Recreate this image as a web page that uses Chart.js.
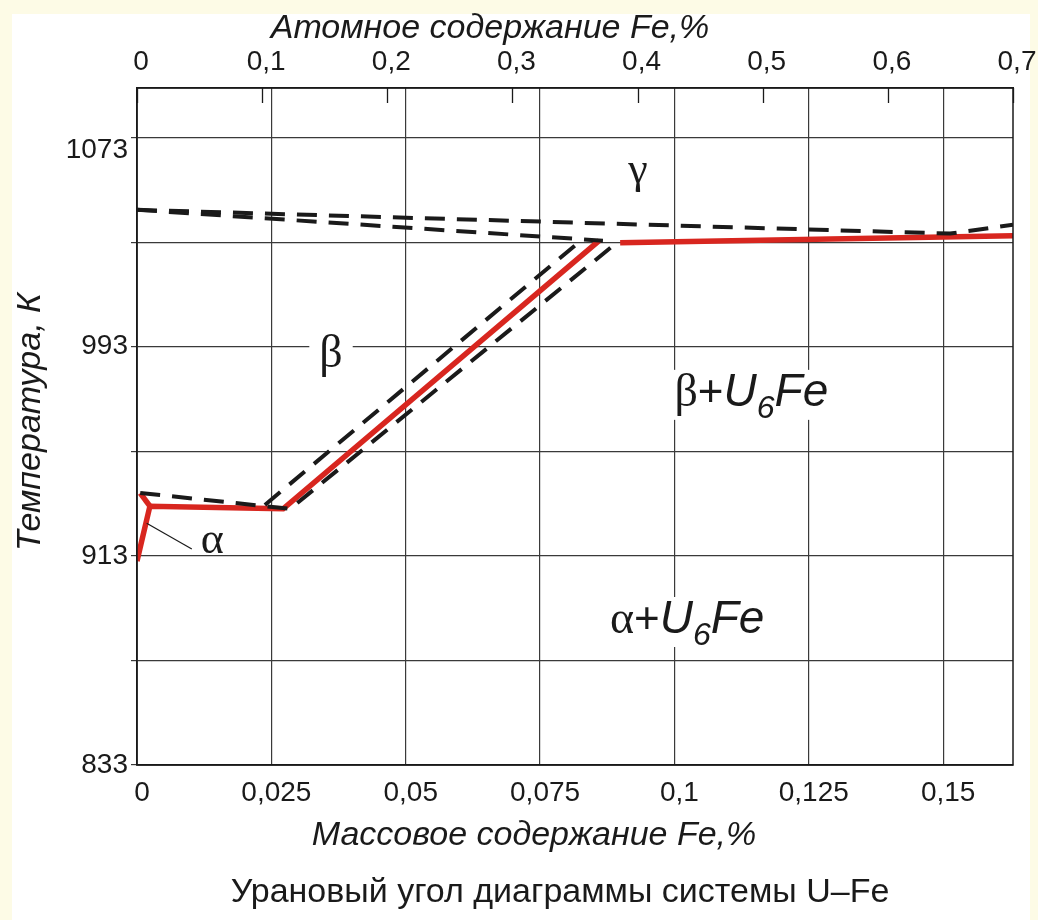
<!DOCTYPE html>
<html>
<head>
<meta charset="utf-8">
<script src="https://cdn.jsdelivr.net/npm/chart.js@4"></script>
<style>
  body { margin: 0; background: #fdfbe6; }
  canvas { display: block; }
</style>
</head>
<body>
<canvas id="grafik" width="1038" height="920"></canvas>
<script>
// bottom axis: mass % Fe, top axis: atomic % Fe, left axis: temperature K
const massTicks = [0, 0.025, 0.05, 0.075, 0.1, 0.125, 0.15];
const atomTicks = [0, 0.1, 0.2, 0.3, 0.4, 0.5, 0.6, 0.7];
const tempTicks = [833, 873, 913, 953, 993, 1033, 1073];
const tempLabels = [833, 913, 993, 1073];

// red solid boundaries
const redMainX = [0, 0.0024, 0.0272, 0.0860];
const redMainY = [911, 932, 931, 1033.6];
const redBranchX = [0.0024, 0.0006];
const redBranchY = [932, 937];
const redTopX = [0.0899, 0.163];
const redTopY = [1032.8, 1035.5];

// black dashed boundaries
const dashAX = [0, 0.1513, 0.163];
const dashAY = [1045.4, 1036.3, 1039.7];
const dashBX = [0, 0.0867];
const dashBY = [1045.4, 1033.6];
const dashCX = [0.0238, 0.0828];
const dashCY = [932.5, 1034.0];
const dashDX = [0.0006, 0.0285, 0.0895];
const dashDY = [937.1, 931.0, 1033.2];

// thin pointer to the alpha label
const pointerX = [0.0018, 0.0102];
const pointerY = [925.5, 915.6];

const pts = (xs, ys) => xs.map((x, i) => ({ x: x, y: ys[i] }));
const comma = v => String(v).replace('.', ',');

const red = '#d8261f';
const ink = '#1a1a1a';
const gridCol = '#3a3a3a';

function line(xs, ys, color, width, dash) {
  return {
    data: pts(xs, ys),
    showLine: true,
    borderColor: color,
    borderWidth: width,
    borderDash: dash || [],
    pointRadius: 0,
    fill: false,
    xAxisID: 'x',
    yAxisID: 'y'
  };
}

const backdrop = {
  id: 'backdrop',
  beforeDraw(chart) {
    const c = chart.ctx;
    c.save();
    c.fillStyle = '#fdfbe6';
    c.fillRect(0, 0, chart.width, chart.height);
    c.fillStyle = '#ffffff';
    c.fillRect(12, 14, 1018, 906);
    c.restore();
  }
};

// region labels, titles, inner ticks of the top axis, frame
const extras = {
  id: 'extras',
  afterDraw(chart) {
    const c = chart.ctx;
    const a = chart.chartArea;
    const sx = chart.scales.x, sy = chart.scales.y, sx2 = chart.scales.x2;
    c.save();

    c.strokeStyle = ink;
    c.lineWidth = 1.5;
    c.strokeRect(a.left, a.top, a.right - a.left, a.bottom - a.top);

    c.lineWidth = 1.3;
    atomTicks.forEach(v => {
      const px = Math.round(sx2.getPixelForValue(v)) + 0.5;
      c.beginPath();
      c.moveTo(px, a.top);
      c.lineTo(px, a.top + 15);
      c.stroke();
    });

    c.fillStyle = ink;

    // greek labels
    const greek = (txt, x, y, size, bg) => {
      c.font = size + 'px "Liberation Serif", "DejaVu Serif", serif';
      c.textAlign = 'center';
      c.textBaseline = 'middle';
      const px = sx.getPixelForValue(x), py = sy.getPixelForValue(y);
      if (bg) {
        const w = c.measureText(txt).width;
        c.fillStyle = '#fff';
        c.fillRect(px - w / 2 - 10, py - 20, w + 20, 40);
        c.fillStyle = ink;
      }
      c.fillText(txt, px, py);
    };
    greek('γ', 0.0932, 1060.0, 44, false);
    greek('β', 0.0361, 990, 46, true);
    greek('α', 0.0140, 918.7, 44, false);

    // two-phase labels with subscript
    const phase = (first, x, y) => {
      let px = sx.getPixelForValue(x);
      const py = sy.getPixelForValue(y);
      c.textAlign = 'left';
      c.textBaseline = 'alphabetic';
      const parts = [
        [first, '46px "Liberation Serif", serif', 0],
        ['+', '44px "Liberation Sans", Arial, sans-serif', 0],
        ['U', 'italic 46px "Liberation Sans", Arial, sans-serif', 0],
        ['6', 'italic 32px "Liberation Sans", Arial, sans-serif', 12],
        ['Fe', 'italic 46px "Liberation Sans", Arial, sans-serif', 0]
      ];
      let total = 0;
      parts.forEach(p => { c.font = p[1]; total += c.measureText(p[0]).width; });
      c.fillStyle = '#fff';
      c.fillRect(px - 2, py - 36, total + 4, 50);
      c.fillStyle = ink;
      parts.forEach(p => {
        c.font = p[1];
        c.fillText(p[0], px, py + p[2]);
        px += c.measureText(p[0]).width;
      });
    };
    phase('β', 0.1000, 970.4);
    phase('α', 0.0880, 883.5);

    // axis titles and caption
    c.textAlign = 'center';
    c.textBaseline = 'middle';
    c.fillStyle = ink;
    c.font = 'italic 34px "Liberation Sans", Arial, sans-serif';
    c.fillText('Атомное содержание Fe,%', 490, 29);
    c.fillText('Массовое содержание Fe,%', 534, 836);
    c.save();
    c.translate(31, 422);
    c.rotate(-Math.PI / 2);
    c.fillText('Температура, К', 0, 0);
    c.restore();
    c.font = '34px "Liberation Sans", Arial, sans-serif';
    c.fillText('Урановый угол диаграммы системы U–Fe', 560, 893);

    c.restore();
  }
};

const xFont = { family: '"Liberation Sans", Arial, sans-serif', size: 28 };
const yFont = { family: '"Liberation Sans", Arial, sans-serif', size: 28, lineHeight: 0.9 };
const noSidePad = s => { s.paddingLeft = 0; s.paddingRight = 0; };

new Chart(document.getElementById('grafik'), {
  type: 'scatter',
  data: {
    datasets: [
      line(pointerX, pointerY, ink, 1.2),
      line(dashAX, dashAY, ink, 4, [20, 12]),
      line(dashBX, dashBY, ink, 4, [20, 12]),
      line(dashCX, dashCY, ink, 4, [20, 12]),
      line(dashDX, dashDY, ink, 4, [20, 12]),
      line(redMainX, redMainY, red, 5.5),
      line(redBranchX, redBranchY, red, 5.5),
      line(redTopX, redTopY, red, 5.5)
    ]
  },
  options: {
    responsive: false,
    animation: false,
    layout: { padding: { left: 0, right: 25, top: 0, bottom: 0 } },
    plugins: { legend: { display: false }, tooltip: { enabled: false } },
    elements: { line: { tension: 0, borderCapStyle: 'butt' } },
    scales: {
      x: {
        type: 'linear',
        position: 'bottom',
        min: 0,
        max: 0.163,
        afterBuildTicks: s => { s.ticks = massTicks.map(v => ({ value: v })); },
        afterFit: s => { s.height = 155; noSidePad(s); },
        ticks: { callback: v => comma(v), font: xFont, color: ink, padding: 11, labelOffset: 5, maxRotation: 0, autoSkip: false },
        grid: { color: gridCol, lineWidth: 1.2, drawTicks: false },
        border: { display: true, color: ink, width: 1.5 }
      },
      x2: {
        type: 'linear',
        position: 'top',
        min: 0,
        max: 0.7,
        afterBuildTicks: s => { s.ticks = atomTicks.map(v => ({ value: v })); },
        afterFit: s => { s.height = 88; noSidePad(s); },
        ticks: { callback: v => comma(v), font: xFont, color: ink, padding: 9, labelOffset: 4, maxRotation: 0, autoSkip: false },
        grid: { drawOnChartArea: false, drawTicks: false },
        border: { display: true, color: ink, width: 1.5 }
      },
      y: {
        type: 'linear',
        position: 'left',
        min: 833,
        max: 1092,
        afterBuildTicks: s => { s.ticks = tempTicks.map(v => ({ value: v })); },
        afterFit: s => { s.width = 137; },
        ticks: {
          // the top label sits just below its grid line in the original
          callback: v => v === 1073 ? ['', '1073'] : (tempLabels.includes(v) ? String(v) : ''),
          font: yFont, color: ink, padding: 3
        },
        grid: { color: gridCol, lineWidth: 1.2, tickLength: 6 },
        border: { display: true, color: ink, width: 1.5 }
      }
    }
  },
  plugins: [backdrop, extras]
});
</script>
</body>
</html>
